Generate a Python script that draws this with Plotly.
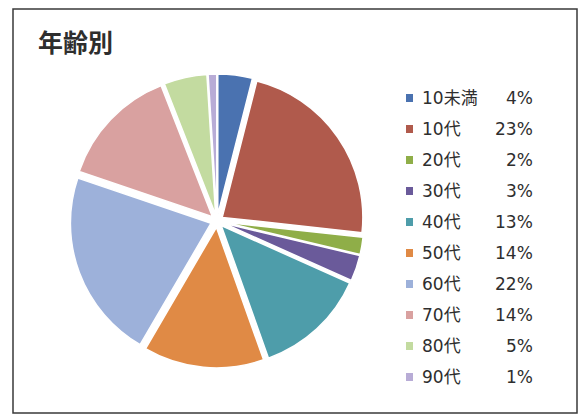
import plotly.graph_objects as go

# Age-group breakdown
categories = ["10未満", "10代", "20代", "30代", "40代", "50代", "60代", "70代", "80代", "90代"]
shares = [4, 23, 2, 3, 13, 14, 22, 14, 5, 1]
colors = ["#4a72b0", "#b05a4c", "#8fae48", "#6a5a9a", "#4e9daa",
          "#e08a45", "#9db1da", "#d9a1a0", "#c3dba0", "#b8acd6"]
title_text = "年齢別"

W, H = 581, 417
TITLE_FONT = "Noto Sans CJK JP, Noto Sans, sans-serif"
LEGEND_FONT = "DejaVu Sans, Noto Sans CJK JP, sans-serif"


def px(x):
    return x / W


def py(y):
    return 1 - y / H


fig = go.Figure(go.Pie(
    labels=categories,
    values=shares,
    sort=False,
    direction="clockwise",
    rotation=0,
    pull=[0.045] * len(shares),
    marker=dict(colors=colors, line=dict(color="white", width=1.5)),
    textinfo="none",
    hoverinfo="label+percent",
    showlegend=False,
    domain=dict(x=[px(70), px(364)], y=[py(369), py(73)]),
))

shapes = [
    # outer frame
    dict(type="rect", xref="paper", yref="paper",
         x0=px(13), x1=px(577), y0=py(413), y1=py(9),
         line=dict(color="#3a3a3a", width=1.5), fillcolor="rgba(0,0,0,0)"),
]
annotations = [
    dict(text="<b>" + title_text + "</b>", xref="paper", yref="paper",
         x=px(36), y=py(41), xanchor="left", yanchor="middle", showarrow=False,
         font=dict(family=TITLE_FONT, size=25, color="#2e2e2e")),
]

# hand-built legend: swatch, name, right-aligned percentage
row0, step = 98, 31
for i, (name, val, col) in enumerate(zip(categories, shares, colors)):
    yc = row0 + i * step
    shapes.append(dict(type="rect", xref="paper", yref="paper",
                       x0=px(406), x1=px(413), y0=py(yc + 4), y1=py(yc - 4),
                       line=dict(width=0), fillcolor=col))
    annotations.append(dict(text=name, xref="paper", yref="paper",
                            x=px(420), y=py(yc), xanchor="left", yanchor="middle",
                            showarrow=False,
                            font=dict(family=LEGEND_FONT, size=17, color="#2e2e2e")))
    annotations.append(dict(text=f"{val}%", xref="paper", yref="paper",
                            x=px(535), y=py(yc), xanchor="right", yanchor="middle",
                            showarrow=False,
                            font=dict(family=LEGEND_FONT, size=17, color="#2e2e2e")))

fig.update_layout(
    width=W, height=H,
    margin=dict(l=0, r=0, t=0, b=0),
    paper_bgcolor="white",
    plot_bgcolor="white",
    shapes=shapes,
    annotations=annotations,
)

fig.write_html("out.html")
